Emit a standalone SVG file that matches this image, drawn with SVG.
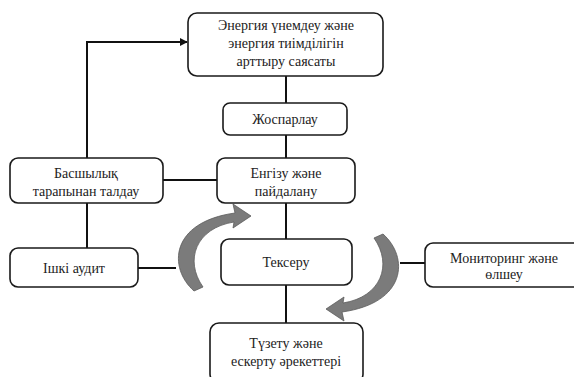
<svg xmlns="http://www.w3.org/2000/svg" width="574" height="377" viewBox="0 0 574 377">
  <style>
    .box { fill: #ffffff; stroke: #1a1a1a; stroke-width: 1.6; }
    .lbl { font-family: "Liberation Serif", "Times New Roman", serif; font-size: 14px; fill: #222222; text-anchor: middle; }
    .wire { fill: none; stroke: #111111; stroke-width: 2; }
    .cycle { fill: #7b7b7b; stroke: #5a5a5a; stroke-width: 0.8; }
  </style>
  <defs>
    <marker id="head" viewBox="0 0 10 10" refX="9" refY="5" markerWidth="4" markerHeight="4" orient="auto" markerUnits="strokeWidth">
      <path d="M0 0 L10 5 L0 10 Z" fill="#111111"/>
    </marker>
    <!-- curved cycle arrow, tail at lower left, head pointing right -->
    <path id="cycleArrow" d="M 194 291 C 168 268, 170 222, 235 213 L 233 204 L 251 216 L 233 228 L 234 222 C 196 228, 184 260, 203 287 Z"/>
  </defs>
  <rect width="574" height="377" fill="#ffffff"/>

  <g id="connectors">
    <line class="wire" x1="286" y1="76" x2="286" y2="103"/>
    <line class="wire" x1="286" y1="135" x2="286" y2="158"/>
    <line class="wire" x1="286" y1="203" x2="286" y2="239"/>
    <line class="wire" x1="286" y1="285" x2="286" y2="323"/>
    <line class="wire" x1="163" y1="180" x2="217" y2="180"/>
    <polyline class="wire" points="87,158 87,42 187,42" marker-end="url(#head)"/>
    <line class="wire" x1="87" y1="203" x2="87" y2="248"/>
    <line class="wire" x1="138" y1="268" x2="176" y2="268"/>
    <line class="wire" x1="400" y1="263" x2="425" y2="263"/>
    <use href="#cycleArrow" class="cycle"/>
    <use href="#cycleArrow" class="cycle" transform="rotate(180 288.5 262.5)"/>
  </g>

  <g id="policy">
    <rect class="box" x="188" y="13" width="195" height="63" rx="9"/>
    <text class="lbl" x="286" y="30">Энергия үнемдеу және</text>
    <text class="lbl" x="286" y="48">энергия тиімділігін</text>
    <text class="lbl" x="286" y="66">арттыру саясаты</text>
  </g>

  <g id="planning">
    <rect class="box" x="223" y="103" width="124" height="32" rx="7"/>
    <text class="lbl" x="285" y="124">Жоспарлау</text>
  </g>

  <g id="implementation">
    <rect class="box" x="217" y="158" width="138" height="45" rx="8"/>
    <text class="lbl" x="286" y="178">Енгізу және</text>
    <text class="lbl" x="286" y="196">пайдалану</text>
  </g>

  <g id="management-review">
    <rect class="box" x="10" y="158" width="153" height="45" rx="8"/>
    <text class="lbl" x="86" y="178">Басшылық</text>
    <text class="lbl" x="86" y="196">тарапынан талдау</text>
  </g>

  <g id="internal-audit">
    <rect class="box" x="10" y="248" width="128" height="39" rx="8"/>
    <text class="lbl" x="74" y="273">Ішкі аудит</text>
  </g>

  <g id="checking">
    <rect class="box" x="221" y="239" width="131" height="46" rx="8"/>
    <text class="lbl" x="286" y="267">Тексеру</text>
  </g>

  <g id="monitoring">
    <rect class="box" x="425" y="243" width="160" height="44" rx="8"/>
    <text class="lbl" x="504" y="263">Мониторинг және</text>
    <text class="lbl" x="504" y="279">өлшеу</text>
  </g>

  <g id="corrective-actions">
    <rect class="box" x="210" y="323" width="153" height="60" rx="9"/>
    <text class="lbl" x="286" y="348">Түзету және</text>
    <text class="lbl" x="286" y="366">ескерту әрекеттері</text>
  </g>
</svg>
